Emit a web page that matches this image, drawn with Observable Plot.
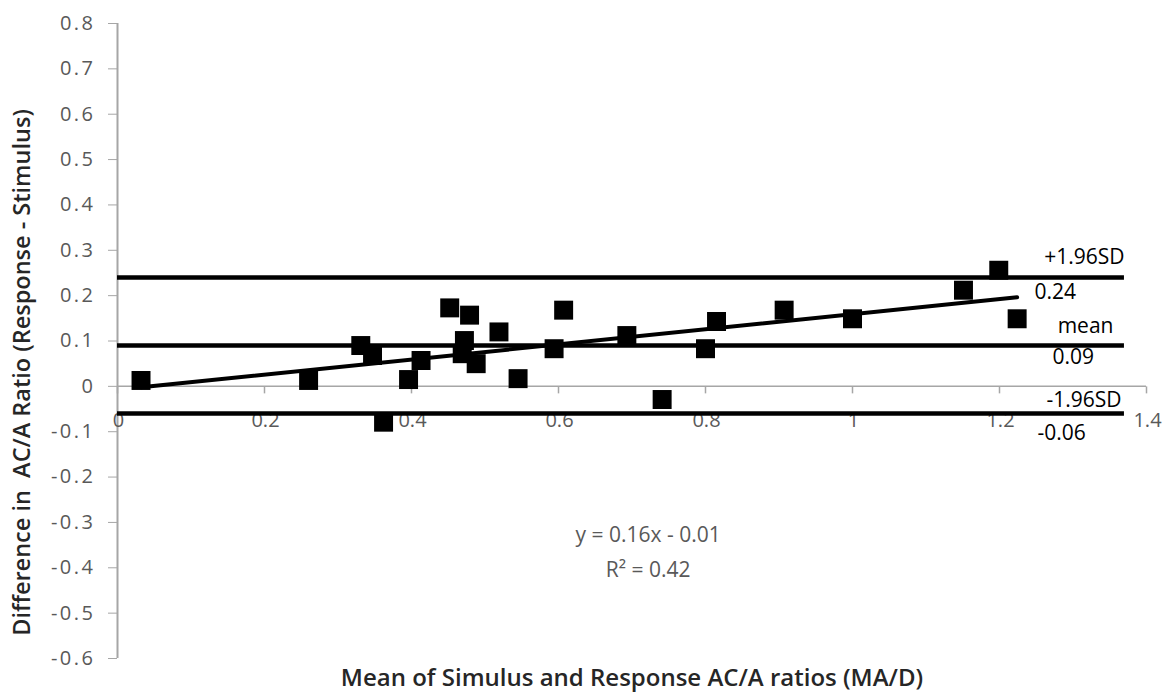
<!DOCTYPE html>
<html>
<head>
<meta charset="utf-8">
<script src="https://cdn.jsdelivr.net/npm/d3@7"></script>
<script src="https://cdn.jsdelivr.net/npm/@observablehq/plot@0.6"></script>
<style>
  html, body { margin: 0; padding: 0; background: #fff; }
  #chart svg { display: block; }
</style>
</head>
<body>
<div id="chart"></div>
<script>
// ---- Data ----
const meanAC = [0.032, 0.260, 0.331, 0.347, 0.362, 0.396, 0.413, 0.452, 0.479, 0.472, 0.469, 0.488, 0.519, 0.545, 0.594, 0.607, 0.693, 0.741, 0.800, 0.815, 0.907, 1.000, 1.151, 1.199, 1.224];
const diffAC = [0.013, 0.013, 0.090, 0.068, -0.079, 0.015, 0.057, 0.173, 0.157, 0.101, 0.072, 0.050, 0.120, 0.017, 0.083, 0.168, 0.112, -0.029, 0.083, 0.143, 0.168, 0.149, 0.212, 0.256, 0.149];

const limitValues = [0.24, 0.09, -0.06];
const limitNames = ["+1.96SD", "mean", "-1.96SD"];
const limitValueLabels = ["0.24", "0.09", "-0.06"];
const limitLineEnd = 1.37;

const xTicks = [0, 0.2, 0.4, 0.6, 0.8, 1, 1.2, 1.4];
const xTickLabels = ["0", "0.2", "0.4", "0.6", "0.8", "1", "1.2", "1.4"];
const yTicks = [-0.6, -0.5, -0.4, -0.3, -0.2, -0.1, 0, 0.1, 0.2, 0.3, 0.4, 0.5, 0.6, 0.7, 0.8];
const yTickLabels = ["-0.6", "-0.5", "-0.4", "-0.3", "-0.2", "-0.1", "0", "0.1", "0.2", "0.3", "0.4", "0.5", "0.6", "0.7", "0.8"];

const equationLines = ["y = 0.16x - 0.01", "R\u00B2 = 0.42"];
const equationAnchor = {x: 0.722, y: [-0.328, -0.405]};

const xTitle = "Mean of Simulus and Response AC/A ratios (MA/D)";
const yTitle = "Difference in  AC/A Ratio (Response - Stimulus)";

// ---- Build tables ----
const points = meanAC.map((x, i) => ({x, y: diffAC[i]}));
const limits = limitValues.map((v, i) => ({value: v, name: limitNames[i], label: limitValueLabels[i]}));
const xtickData = xTicks.map((v, i) => ({v, label: xTickLabels[i]}));
const yLabelMap = new Map(yTicks.map((v, i) => [v, yTickLabels[i]]));

const AXIS = "#a6a6a6";
const TICKTXT = "#595959";
const TXT = "#262626";
const FONT = "'Open Sans', sans-serif";

const tickDown = {draw(ctx) { ctx.moveTo(0, 0); ctx.lineTo(0, 7); }};

const nameDy = [-20, -19, -13];
const nameAnchorDx = [0, -11, -3];
const valueDy = [15, 12, 20];
const valueStartDx = [-90, -72, -87];

const chart = Plot.plot({
  width: 1172,
  height: 693,
  marginLeft: 117,
  marginRight: 26,
  marginTop: 23,
  marginBottom: 35,
  style: {fontFamily: FONT, background: "#fff", overflow: "visible"},
  x: {domain: [0, 1.4], axis: null},
  y: {domain: [-0.6, 0.8], axis: null},
  marks: [
    // y axis
    Plot.axisY(yTicks, {
      anchor: "left",
      tickSize: 9,
      tickPadding: 13,
      tickFormat: d => yLabelMap.get(d),
      stroke: AXIS,
      fill: TICKTXT,
      fontSize: 20,
      label: null
    }),
    Plot.ruleX([0], {stroke: AXIS, strokeWidth: 2}),
    // x axis drawn through y = 0
    Plot.ruleY([0], {stroke: AXIS, strokeWidth: 1.5}),
    Plot.dot(xtickData, {x: "v", y: () => 0, symbol: tickDown, stroke: AXIS, fill: "none", strokeWidth: 1.5}),
    Plot.text(xtickData, {x: "v", y: () => 0, text: "label", dy: 34, dx: 1, fill: TICKTXT, fontSize: 20, ariaLabel: "xticklabels"}),
    // limits of agreement
    Plot.ruleY(limits, {y: "value", x1: () => 0, x2: () => limitLineEnd, stroke: "#000", strokeWidth: 4.5}),
    ...limits.map((d, i) => Plot.text([d], {
      x: () => limitLineEnd, y: "value", text: "name", textAnchor: "end",
      dx: nameAnchorDx[i], dy: nameDy[i], fill: "#000", fontSize: 21, ariaLabel: "limitlabels"
    })),
    ...limits.map((d, i) => Plot.text([d], {
      x: () => limitLineEnd, y: "value", text: "label", textAnchor: "start",
      dx: valueStartDx[i], dy: valueDy[i], fill: "#000", fontSize: 21, ariaLabel: "limitlabels"
    })),
    // regression trend line
    Plot.linearRegressionY(points, {x: "x", y: "y", ci: 0, stroke: "#000", strokeWidth: 4}),
    // data squares
    Plot.dot(points, {x: "x", y: "y", symbol: "square", r: 10.7, fill: "#000", stroke: "none"}),
    // equation
    Plot.text(equationLines, {
      x: () => equationAnchor.x, y: (d, i) => equationAnchor.y[i], text: d => d,
      fill: TICKTXT, fontSize: 21, ariaLabel: "equation"
    }),
    // axis titles
    Plot.text([xTitle], {frameAnchor: "bottom", lineAnchor: "middle", textAnchor: "middle", dy: 20, text: d => d, fill: TXT, fontSize: 24, fontWeight: 600}),
    Plot.text([yTitle], {frameAnchor: "left", lineAnchor: "middle", textAnchor: "middle", dx: -95, dy: 31.5, rotate: -90, text: d => d, fill: TXT, fontSize: 23.5, fontWeight: 600})
  ]
});
const svg = d3.select(chart);
svg.selectAll('g[aria-label="y-axis tick label"] text').style("letter-spacing", "2.5px");
svg.selectAll('g[aria-label="xticklabels"] text').style("letter-spacing", "2.5px");
svg.selectAll('g[aria-label="equation"] text').style("letter-spacing", "1.5px");
svg.selectAll('g[aria-label="limitlabels"] text').style("letter-spacing", "1px");
document.getElementById("chart").appendChild(chart);
</script>
</body>
</html>
